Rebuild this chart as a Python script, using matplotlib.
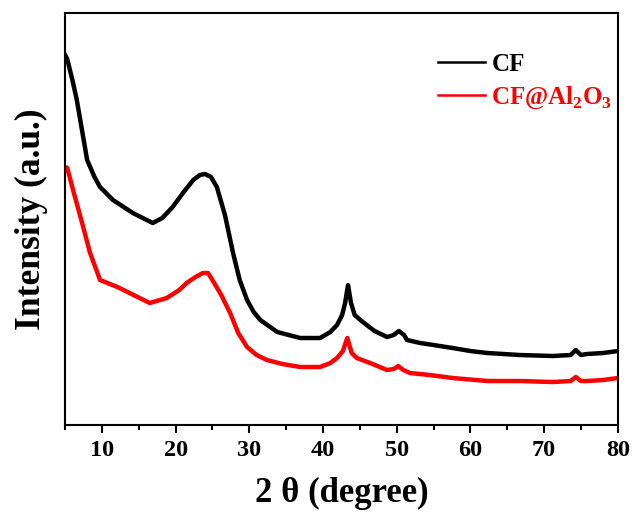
import matplotlib
matplotlib.use("Agg")
import matplotlib.pyplot as plt
from matplotlib.ticker import MultipleLocator

plt.rcParams["font.family"] = "Liberation Serif"
plt.rcParams["font.weight"] = "bold"
plt.rcParams["mathtext.fontset"] = "custom"
plt.rcParams["mathtext.rm"] = "Liberation Serif:bold"
plt.rcParams["mathtext.bf"] = "Liberation Serif:bold"

# values (arbitrary intensity units)
cf_x = [5.0, 5.3, 6.0, 6.6, 7.3, 8.0, 9.0, 9.75, 11.5, 14.2, 16.9, 18.2, 19.6, 21.0,
        22.4, 23.3, 24.0, 24.8, 25.6, 26.7, 27.8, 28.7, 29.7, 30.6, 31.5, 33.8, 36.9,
        39.6, 41.0, 41.9, 42.6, 43.0, 43.4, 43.8, 44.3, 45.4, 47.0, 48.7, 49.6, 50.3,
        51.0, 51.4, 53.2, 55.0, 57.6, 60.0, 62.3, 66.7, 71.2, 73.6, 74.3, 75.0, 75.8,
        78.0, 80.0]
cf_y = [370, 366, 345, 325, 295, 265, 248, 238, 225, 212, 202, 207, 218, 232,
        245, 250, 251, 248, 238, 210, 172, 145, 125, 113, 105, 93, 87,
        87, 93, 100, 110, 122, 140, 122, 110, 103, 94, 88, 90, 94,
        90, 85, 82, 80, 77, 74, 72, 70, 69, 70, 75, 70, 71,
        72, 74]

cfal_x = [5.0, 5.3, 6.2, 7.1, 8.4, 9.75, 12.1, 14.3, 16.5, 18.8, 20.5, 21.5, 22.7,
          23.7, 24.4, 25.0, 26.2, 27.4, 28.5, 29.7, 31.0, 32.4, 34.5, 36.9, 39.6,
          41.0, 41.9, 42.7, 43.3, 43.9, 44.6, 46.4, 48.7, 49.6, 50.2, 50.9, 51.8,
          54.5, 57.6, 62.3, 66.7, 71.2, 73.6, 74.3, 75.0, 75.8, 78.0, 80.0]
cfal_y = [258, 257, 232, 208, 172, 145, 138, 130, 122, 127, 135, 142, 148,
          152, 152, 145, 130, 112, 92, 78, 70, 65, 61, 58, 58,
          62, 67, 74, 87, 72, 67, 62, 55, 56, 59, 55, 52,
          50, 47, 44, 44, 43, 44, 48, 44, 44, 45, 47]

labels = ["CF", r"CF@Al$_\mathregular{2}$O$_\mathregular{3}$"]
colors = ["black", "#ff0000"]

fig = plt.figure(figsize=(6.35, 5.13), dpi=100)
ax = fig.add_axes([0.1024, 0.1715, 0.8705, 0.8032])

ax.plot(cf_x, cf_y, color=colors[0], lw=3.2, solid_joinstyle="round", label=labels[0])
ax.plot(cfal_x, cfal_y, color=colors[1], lw=3.2, solid_joinstyle="round", label=labels[1])

ax.set_xlim(5, 80)
ax.set_ylim(0, 412)
ax.xaxis.set_major_locator(MultipleLocator(10))
ax.xaxis.set_minor_locator(MultipleLocator(5))
ax.set_yticks([])
ax.tick_params(axis="x", which="major", direction="out", length=6, width=1.5,
               labelsize=17.5, pad=5)
ax.tick_params(axis="x", which="minor", direction="out", length=3.5, width=1.5)
for s in ax.spines.values():
    s.set_linewidth(1.5)

ax.set_xlabel("2 θ (degree)", fontsize=25, fontweight="bold", labelpad=11)
ax.set_ylabel("Intensity (a.u.)", fontsize=25.5, fontweight="bold", labelpad=12)

leg = ax.legend(loc="upper right", bbox_to_anchor=(1.022, 0.945), frameon=False,
                fontsize=18, handlelength=1.9, handletextpad=0.25,
                labelspacing=0.35, labelcolor="linecolor", borderaxespad=0.3)
for line in leg.get_lines():
    line.set_linewidth(1.8)

fig.savefig("out.png", dpi=100)
